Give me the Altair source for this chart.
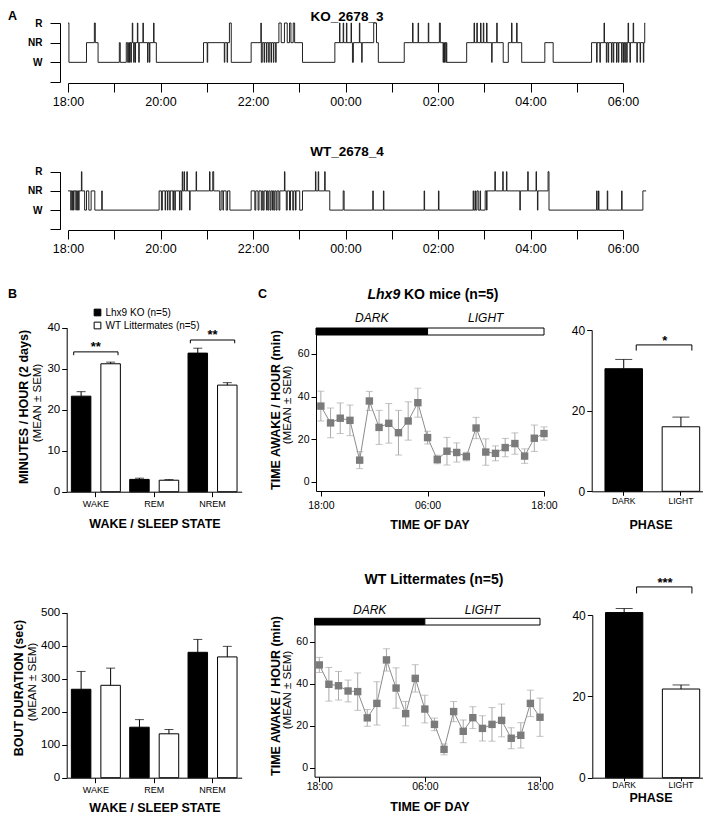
import altair as alt
import pandas as pd

FONT = "Liberation Sans"
W, H = 695, 808
MARGIN = 8


def px(v):
    return v - MARGIN


# ------------------------------------------------------------------ DATA
# Panel A hypnograms: (hours after 18:00, state at start of bout)
ko_hypnogram = [
    (0.00, "R"), (0.02, "W"), (0.40, "NR"), (0.57, "R"), (0.59, "NR"), (0.65, "W"), (1.11, "NR"), (1.13, "W"),
    (1.26, "NR"), (1.29, "W"), (1.31, "NR"), (1.33, "W"), (1.34, "NR"), (1.36, "W"), (1.37, "NR"), (1.39, "R"),
    (1.40, "NR"), (1.42, "W"), (1.43, "NR"), (1.45, "W"), (1.46, "NR"), (1.50, "R"), (1.51, "NR"), (1.53, "W"),
    (1.54, "NR"), (1.62, "R"), (1.63, "NR"), (1.72, "W"), (1.73, "NR"), (1.76, "W"), (1.77, "NR"), (1.85, "R"),
    (1.86, "NR"), (1.91, "W"), (2.93, "NR"), (3.01, "W"), (3.02, "NR"), (3.38, "W"), (3.39, "NR"), (3.44, "W"),
    (3.45, "NR"), (3.49, "R"), (3.53, "W"), (3.96, "NR"), (4.17, "R"), (4.18, "W"), (4.20, "NR"), (4.24, "W"),
    (4.25, "NR"), (4.29, "W"), (4.30, "NR"), (4.34, "W"), (4.35, "NR"), (4.39, "W"), (4.40, "NR"), (4.44, "W"),
    (4.45, "NR"), (4.49, "W"), (4.50, "NR"), (4.56, "R"), (4.61, "NR"), (4.68, "R"), (4.74, "NR"), (4.79, "R"),
    (4.82, "NR"), (4.87, "R"), (4.90, "NR"), (5.07, "W"), (5.77, "NR"), (5.87, "R"), (5.88, "NR"), (5.95, "R"),
    (5.96, "NR"), (6.02, "R"), (6.03, "NR"), (6.12, "R"), (6.13, "NR"), (6.15, "W"), (6.17, "NR"), (6.30, "R"),
    (6.31, "NR"), (6.35, "W"), (6.36, "NR"), (6.61, "R"), (6.67, "NR"), (6.71, "W"), (7.27, "NR"), (7.45, "R"),
    (7.46, "NR"), (7.57, "R"), (7.58, "NR"), (7.79, "R"), (7.80, "NR"), (8.03, "R"), (8.05, "NR"), (8.11, "W"),
    (8.12, "NR"), (8.14, "W"), (8.15, "NR"), (8.17, "W"), (8.18, "NR"), (8.19, "W"), (8.62, "NR"), (8.78, "R"),
    (8.79, "NR"), (8.84, "R"), (8.85, "NR"), (8.92, "R"), (8.93, "NR"), (8.98, "R"), (8.99, "NR"), (9.05, "R"),
    (9.06, "NR"), (9.16, "W"), (9.17, "NR"), (9.27, "R"), (9.28, "NR"), (9.41, "W"), (9.52, "NR"), (9.59, "R"),
    (9.60, "NR"), (9.70, "R"), (9.71, "NR"), (9.81, "W"), (10.31, "NR"), (10.49, "W"), (11.32, "NR"), (11.43, "W"),
    (11.44, "NR"), (11.50, "W"), (11.51, "NR"), (11.59, "R"), (11.60, "NR"), (11.64, "W"), (11.65, "NR"), (11.68, "W"),
    (11.69, "NR"), (11.75, "W"), (11.76, "NR"), (11.79, "W"), (11.80, "NR"), (11.86, "W"), (11.87, "NR"), (11.90, "W"),
    (11.91, "NR"), (11.97, "W"), (11.98, "NR"), (12.01, "W"), (12.02, "NR"), (12.04, "W"), (12.05, "NR"), (12.08, "W"),
    (12.09, "NR"), (12.11, "R"), (12.12, "NR"), (12.15, "W"), (12.16, "NR"), (12.22, "R"), (12.23, "NR"), (12.30, "W"),
    (12.31, "NR"), (12.37, "W"), (12.38, "NR"), (12.44, "W"), (12.45, "NR"), (12.47, "R"), (12.48, "R"),
]
wt_hypnogram = [
    (0.00, "NR"), (0.06, "W"), (0.07, "NR"), (0.09, "W"), (0.10, "NR"), (0.12, "W"), (0.13, "NR"), (0.17, "W"),
    (0.18, "NR"), (0.20, "W"), (0.21, "NR"), (0.23, "W"), (0.24, "NR"), (0.29, "R"), (0.30, "NR"), (0.36, "W"),
    (0.40, "NR"), (0.45, "W"), (0.50, "NR"), (0.58, "W"), (0.73, "NR"), (0.74, "W"), (1.97, "NR"), (2.02, "W"),
    (2.04, "NR"), (2.10, "W"), (2.11, "NR"), (2.15, "W"), (2.16, "NR"), (2.20, "W"), (2.21, "NR"), (2.27, "W"),
    (2.28, "NR"), (2.31, "W"), (2.32, "NR"), (2.41, "W"), (2.42, "NR"), (2.45, "W"), (2.46, "NR"), (2.47, "R"),
    (2.48, "NR"), (2.51, "R"), (2.52, "NR"), (2.57, "R"), (2.58, "NR"), (2.63, "W"), (2.64, "NR"), (2.77, "R"),
    (2.78, "NR"), (3.06, "R"), (3.07, "NR"), (3.13, "R"), (3.15, "NR"), (3.28, "W"), (3.31, "NR"), (3.35, "W"),
    (3.36, "NR"), (3.42, "W"), (3.45, "NR"), (3.50, "W"), (3.96, "NR"), (4.04, "W"), (4.06, "NR"), (4.11, "W"),
    (4.13, "NR"), (4.18, "W"), (4.20, "NR"), (4.22, "W"), (4.24, "NR"), (4.29, "W"), (4.30, "NR"), (4.32, "W"),
    (4.34, "NR"), (4.37, "W"), (4.39, "NR"), (4.42, "W"), (4.43, "NR"), (4.45, "W"), (4.47, "NR"), (4.50, "W"),
    (4.52, "NR"), (4.56, "W"), (4.58, "NR"), (4.68, "R"), (4.69, "NR"), (4.72, "W"), (4.74, "NR"), (4.79, "W"),
    (4.81, "NR"), (4.86, "W"), (4.88, "NR"), (4.92, "W"), (4.93, "NR"), (5.01, "W"), (5.07, "NR"), (5.35, "R"),
    (5.36, "NR"), (5.41, "R"), (5.42, "NR"), (5.55, "R"), (5.56, "NR"), (5.66, "W"), (5.95, "NR"), (5.97, "W"),
    (6.59, "NR"), (6.60, "W"), (6.82, "NR"), (6.83, "W"), (7.70, "NR"), (7.71, "W"), (8.01, "NR"), (8.02, "W"),
    (8.76, "NR"), (8.77, "W"), (8.80, "NR"), (8.81, "W"), (8.84, "NR"), (8.87, "W"), (8.91, "NR"), (8.92, "W"),
    (9.02, "NR"), (9.05, "W"), (9.06, "NR"), (9.23, "R"), (9.24, "NR"), (9.40, "R"), (9.41, "NR"), (9.48, "R"),
    (9.49, "NR"), (9.77, "W"), (9.78, "NR"), (9.94, "R"), (9.95, "NR"), (10.12, "R"), (10.13, "NR"), (10.15, "W"),
    (10.16, "NR"), (10.38, "R"), (10.40, "W"), (11.43, "NR"), (11.44, "W"), (11.47, "NR"), (11.48, "W"), (11.66, "NR"),
    (11.67, "W"), (11.97, "NR"), (11.98, "W"), (12.43, "NR"), (12.50, "NR"),
]

# Panel B
sleep_states = ["WAKE", "REM", "NREM"]
genotypes = ["KO", "WT"]
ko_min_hour = [23.3, 3.0, 33.8]
ko_min_hour_sem = [1.1, 0.3, 1.2]
wt_min_hour = [31.2, 2.8, 26.0]
wt_min_hour_sem = [0.4, 0.15, 0.6]
min_sig_states = ["WAKE", "NREM"]
min_sig_marks = ["**", "**"]
min_sig_levels = [34.1, 37.0]

ko_bout_sec = [268, 153, 380]
ko_bout_sec_sem = [54, 23, 39]
wt_bout_sec = [280, 133, 366]
wt_bout_sec_sem = [52, 13, 32]

# Panel C: hourly time awake (hour bins from 18:00)
hour_bins = list(range(24))
ko_awake = [35.5, 27.6, 29.8, 28.8, 10.1, 37.9, 25.5, 27.4, 23.0, 28.5, 37.1, 20.7,
            10.4, 14.3, 13.7, 11.8, 25.2, 13.9, 13.3, 16.0, 17.9, 12.0, 20.4, 22.6]
ko_awake_sem = [7.0, 7.0, 7.2, 7.2, 4.0, 4.5, 8.0, 9.3, 10.5, 9.0, 6.8, 3.0,
                2.0, 6.5, 4.5, 2.0, 5.0, 6.2, 3.5, 4.3, 5.0, 3.4, 6.2, 3.1]
wt_awake = [48.9, 39.7, 39.0, 36.5, 36.2, 23.7, 30.6, 51.3, 37.9, 25.7, 42.5, 27.9,
            20.6, 8.7, 26.7, 17.3, 23.8, 18.7, 20.6, 22.5, 14.0, 15.4, 30.6, 24.0]
wt_awake_sem = [3.6, 8.0, 6.8, 5.2, 8.9, 4.0, 10.3, 5.3, 9.6, 5.8, 6.5, 6.6,
                3.0, 2.6, 4.8, 5.4, 5.2, 6.0, 8.0, 7.8, 5.0, 6.0, 6.3, 9.1]

phases = ["DARK", "LIGHT"]
phase_start = [-0.5, 11]
phase_end = [11, 23]
ko_phase = [30.4, 16.0]
ko_phase_sem = [2.3, 2.4]
wt_phase = [40.6, 21.8]
wt_phase_sem = [1.0, 1.0]
ko_phase_sig = ("*", 36.3)
wt_phase_sig = ("***", 46.9)


# ------------------------------------------------------------------ HELPERS
def x_axis(y_page, **kw):
    return alt.Axis(orient="bottom", offset=px(y_page) - H, title=None, grid=False,
                    labelFlush=False, labelOverlap=False, labelAngle=0, **kw)


def y_axis(x_page, **kw):
    return alt.Axis(orient="left", offset=-px(x_page), title=None, grid=False,
                    labelFlush=False, labelOverlap=False, **kw)


DUMMY = pd.DataFrame({"k": [0]})


def text(s, x, y, size, weight="normal", style="normal", angle=0, align="center", baseline="middle"):
    kw = dict(font=FONT, fontSize=size, fontWeight=weight, fontStyle=style,
              align=align, baseline=baseline, color="black")
    if angle:
        kw["angle"] = angle
    return alt.Chart(DUMMY).mark_text(**kw).encode(
        x=alt.value(px(x)), y=alt.value(px(y)), text=alt.value(s))


CLOCK = ("datum.value % 2 == 1 ? '' : "
         "((((18 + datum.value) % 24) < 10) ? '0' : '') + ((18 + datum.value) % 24) + ':00'")
STATE_LABEL = "datum.value == 3 ? 'R' : datum.value == 2 ? 'NR' : datum.value == 1 ? 'W' : ''"


def hypnogram(pairs, x0, x1, ybot, ytop, yaxis_x, xaxis_y):
    df = pd.DataFrame(pairs, columns=["hour", "state"])
    df["level"] = df["state"].map({"W": 1, "NR": 2, "R": 3})
    xs = alt.Scale(domain=[0, 12], range=[px(x0), px(x1)], nice=False, zero=False)
    ys = alt.Scale(domain=[0, 3], range=[px(ybot), px(ytop)], nice=False, zero=False)
    return [alt.Chart(df).mark_line(interpolate="step-after", color="#222222", strokeWidth=1).encode(
        x=alt.X("hour:Q", scale=xs,
                axis=x_axis(xaxis_y, values=list(range(13)), tickSize=9, labelPadding=3,
                            labelFontSize=12.5, labelExpr=CLOCK)),
        y=alt.Y("level:Q", scale=ys,
                axis=y_axis(yaxis_x, values=[0, 1, 2, 3], tickSize=10, labelPadding=8,
                            labelFontSize=10, labelFontWeight="bold", labelExpr=STATE_LABEL)),
        order="hour:Q",
    )]


B_X0, B_X1, B_YAXIS = 66.7, 241.7, 66.7


def state_bars(ko_vals, ko_sem, wt_vals, wt_sem, y_dom, y_vals, ybot, ytop,
               sig=None, sig_depth=0.8, legend=None):
    df = pd.DataFrame({
        "state": sleep_states * 2,
        "genotype": ["KO"] * 3 + ["WT"] * 3,
        "mean": ko_vals + wt_vals,
        "sem": ko_sem + wt_sem,
    })
    df["upper"] = df["mean"] + df["sem"]
    xs = alt.Scale(domain=sleep_states, range=[px(B_X0), px(B_X1)], paddingInner=0, paddingOuter=0)
    ys = alt.Scale(domain=y_dom, range=[px(ybot), px(ytop)], nice=False, zero=False)
    xo = alt.XOffset("genotype:N", scale=alt.Scale(domain=genotypes, paddingInner=0.339, paddingOuter=0.158))
    X = alt.X("state:N", scale=xs, sort=sleep_states, axis=None)
    bars = alt.Chart(df).mark_bar(stroke="black", strokeWidth=1).encode(
        x=alt.X("state:N", scale=xs, sort=sleep_states,
                axis=x_axis(ybot, tickSize=5, labelPadding=3, labelFontSize=9)),
        xOffset=xo,
        y=alt.Y("mean:Q", scale=ys,
                axis=y_axis(B_YAXIS, values=y_vals, tickSize=5, labelPadding=2, labelFontSize=11.5)),
        fill=alt.Fill("genotype:N", scale=alt.Scale(domain=genotypes, range=["black", "white"]), legend=legend),
    )
    err = alt.Chart(df).mark_rule(color="black", strokeWidth=1).encode(
        x=X, xOffset=xo, y=alt.Y("mean:Q", scale=ys, axis=None), y2="upper:Q")
    cap = alt.Chart(df).mark_tick(color="black", size=9, thickness=1).encode(
        x=X, xOffset=xo, y=alt.Y("upper:Q", scale=ys, axis=None))
    layers = [bars, err, cap]
    if sig:
        states_s, marks_s, levels_s = sig
        rows = []
        for st, lvl in zip(states_s, levels_s):
            for k, (g, yv) in enumerate([("KO", lvl - sig_depth), ("KO", lvl), ("WT", lvl), ("WT", lvl - sig_depth)]):
                rows.append({"state": st, "genotype": g, "y": yv, "k": k})
        bdf = pd.DataFrame(rows)
        bracket = alt.Chart(bdf).mark_line(color="black", strokeWidth=1).encode(
            x=X, xOffset=xo, y=alt.Y("y:Q", scale=ys, axis=None), detail="state:N", order="k:Q")
        sdf = pd.DataFrame({"state": states_s, "mark": marks_s, "y": levels_s})
        stars = alt.Chart(sdf).mark_text(font=FONT, fontSize=13, fontWeight="bold",
                                         baseline="alphabetic", dy=-1, color="black").encode(
            x=X, y=alt.Y("y:Q", scale=ys, axis=None), text="mark:N")
        layers += [bracket, stars]
    return layers


def awake_line(vals, sems, x0, x1, y_dom, ybot, ytop, yaxis_x, xlabel_pad, bar_top, bar_bot, label_y):
    df = pd.DataFrame({"bin": hour_bins, "mean": vals, "sem": sems})
    df["lo"] = df["mean"] - df["sem"]
    df["hi"] = df["mean"] + df["sem"]
    xs = alt.Scale(domain=[-0.5, 23], range=[px(x0), px(x1)], nice=False, zero=False)
    ys = alt.Scale(domain=y_dom, range=[px(ybot), px(ytop)], nice=False, zero=False)
    X = alt.X("bin:Q", scale=xs, axis=None)
    err_col = "#a9a9a9"
    err = alt.Chart(df).mark_rule(color=err_col, strokeWidth=1).encode(
        x=X, y=alt.Y("lo:Q", scale=ys, axis=None), y2="hi:Q")
    cap_lo = alt.Chart(df).mark_tick(color=err_col, size=7, thickness=1, orient="horizontal").encode(
        x=X, y=alt.Y("lo:Q", scale=ys, axis=None))
    cap_hi = alt.Chart(df).mark_tick(color=err_col, size=7, thickness=1, orient="horizontal").encode(
        x=X, y=alt.Y("hi:Q", scale=ys, axis=None))
    line = alt.Chart(df).mark_line(color="#8c8c8c", strokeWidth=1).encode(
        x=alt.X("bin:Q", scale=xs,
                axis=x_axis(ybot, values=[0, 11, 23], tickSize=5, labelPadding=xlabel_pad, labelFontSize=10.5,
                            labelExpr="datum.value == 11 ? '06:00' : '18:00'")),
        y=alt.Y("mean:Q", scale=ys,
                axis=y_axis(yaxis_x, values=[0, 20, 40, 60], tickSize=5, labelPadding=2, labelFontSize=10.5)),
    )
    pts = alt.Chart(df).mark_square(size=55, color="#7b7b7b", opacity=1).encode(
        x=X, y=alt.Y("mean:Q", scale=ys, axis=None))
    pdf = pd.DataFrame({"phase": phases, "start": phase_start, "end": phase_end})
    pdf["mid"] = (pdf["start"] + pdf["end"]) / 2
    pbar = alt.Chart(pdf).mark_rect(stroke="black", strokeWidth=1).encode(
        x=alt.X("start:Q", scale=xs, axis=None), x2="end:Q",
        y=alt.value(px(bar_top)), y2=alt.value(px(bar_bot)),
        fill=alt.Fill("phase:N", scale=alt.Scale(domain=phases, range=["black", "white"]), legend=None),
    )
    plabel = alt.Chart(pdf).mark_text(font=FONT, fontSize=12, fontStyle="italic", color="black").encode(
        x=alt.X("mid:Q", scale=xs, axis=None), y=alt.value(px(label_y)), text="phase:N")
    return [err, cap_lo, cap_hi, line, pts, pbar, plabel]


PI, PO, AL = 0.344, 0.145, 0.8


def phase_bars(vals, sems, x0, x1, ybot, ytop, label_tick, label_pad, sig, sig_depth):
    df = pd.DataFrame({"phase": phases, "mean": vals, "sem": sems})
    df["upper"] = df["mean"] + df["sem"]
    xs = alt.Scale(domain=phases, range=[px(x0), px(x1)], paddingInner=PI, paddingOuter=PO, align=AL)
    ys = alt.Scale(domain=[0, 40], range=[px(ybot), px(ytop)], nice=False, zero=False)
    X = alt.X("phase:N", scale=xs, sort=phases, axis=None)
    bars = alt.Chart(df).mark_bar(stroke="black", strokeWidth=1).encode(
        x=alt.X("phase:N", scale=xs, sort=phases,
                axis=x_axis(ybot, tickSize=label_tick, labelPadding=label_pad, labelFontSize=8.5)),
        y=alt.Y("mean:Q", scale=ys,
                axis=y_axis(x0, values=[0, 20, 40], tickSize=5, labelPadding=2, labelFontSize=12)),
        fill=alt.Fill("phase:N", scale=alt.Scale(domain=phases, range=["black", "white"]), legend=None),
    )
    err = alt.Chart(df).mark_rule(color="black", strokeWidth=1).encode(
        x=X, y=alt.Y("mean:Q", scale=ys, axis=None), y2="upper:Q")
    cap = alt.Chart(df).mark_tick(color="black", size=17, thickness=1).encode(
        x=X, y=alt.Y("upper:Q", scale=ys, axis=None))
    mark, lvl = sig
    bdf = pd.DataFrame({"phase": ["DARK", "DARK", "LIGHT", "LIGHT"],
                        "y": [lvl - sig_depth, lvl, lvl, lvl - sig_depth], "k": [0, 1, 2, 3]})
    bracket = alt.Chart(bdf).mark_line(color="black", strokeWidth=1).encode(
        x=X, y=alt.Y("y:Q", scale=ys, axis=None), order="k:Q")
    step = (x1 - x0) / (2 - PI + 2 * PO)
    sdf = pd.DataFrame({"phase": ["DARK"], "mark": [mark], "y": [lvl]})
    stars = alt.Chart(sdf).mark_text(font=FONT, fontSize=13, fontWeight="bold", baseline="alphabetic",
                                     dx=step / 2, dy=0, color="black").encode(
        x=X, y=alt.Y("y:Q", scale=ys, axis=None), text="mark:N")
    return [bars, err, cap, bracket, stars]


# ------------------------------------------------------------------ PANELS
legend_b = alt.Legend(orient="none", legendX=px(92.5), legendY=px(307.5), title=None,
                      symbolType="square", symbolSize=45, symbolStrokeColor="black", symbolStrokeWidth=1,
                      labelFontSize=10, labelFont=FONT, labelColor="black", rowPadding=1, padding=0,
                      labelOffset=3,
                      labelExpr="datum.label == 'KO' ? 'Lhx9 KO (n=5)' : 'WT Littermates (n=5)'")

layers = []
layers += hypnogram(ko_hypnogram, 68, 623, 82, 23, 60, 83)
layers += hypnogram(wt_hypnogram, 68, 623, 229.3, 171.7, 60, 230)
layers += state_bars(ko_min_hour, ko_min_hour_sem, wt_min_hour, wt_min_hour_sem,
                     [0, 40], [0, 10, 20, 30, 40], 491.7, 327.7,
                     sig=(min_sig_states, min_sig_marks, min_sig_levels), sig_depth=0.8, legend=legend_b)
layers += state_bars(ko_bout_sec, ko_bout_sec_sem, wt_bout_sec, wt_bout_sec_sem,
                     [0, 500], [0, 100, 200, 300, 400, 500], 777.7, 612.7)
layers += awake_line(ko_awake, ko_awake_sem, 316, 544, [-4.4, 72.2], 491, 328, 316, 4, 328, 335, 318)
layers += awake_line(wt_awake, wt_awake_sem, 314.5, 540, [-4.3, 71.1], 776.7, 618.3, 314.5, 0, 618.3, 625, 610)
layers += phase_bars(ko_phase, ko_phase_sem, 591.7, 703, 491.3, 330, 4, 1, ko_phase_sig, 1.4)
layers += phase_bars(wt_phase, wt_phase_sem, 592.3, 703, 777.7, 615, 3, 0, wt_phase_sig, 1.6)

layers += [
    text("A", 8, 19.5, 12.5, weight="bold", align="left", baseline="alphabetic"),
    text("KO_2678_3", 347, 20.5, 13.5, weight="bold", baseline="alphabetic"),
    text("WT_2678_4", 347, 151.7, 13.5, weight="bold"),
    text("B", 8, 294, 12.5, weight="bold", align="left"),
    text("C", 258, 294, 12.5, weight="bold", align="left"),
    # B axis titles
    text("MINUTES / HOUR (2 days)", 24, 407, 12.5, weight="bold", angle=270),
    text("(MEAN \u00b1 SEM)", 38, 403, 11.5, angle=270),
    text("WAKE / SLEEP STATE", 155, 524, 12.5, weight="bold"),
    text("BOUT DURATION (sec)", 19, 688, 12.5, weight="bold", angle=270),
    text("(MEAN \u00b1 SEM)", 32.5, 682, 11.5, angle=270),
    text("WAKE / SLEEP STATE", 155, 808, 12.5, weight="bold"),
    # C titles
    text("Lhx9", 367.5, 295, 14, weight="bold", style="italic", align="left"),
    text("KO mice (n=5)", 404, 295, 14, weight="bold", align="left"),
    text("WT Littermates (n=5)", 434, 580, 14, weight="bold"),
    text("TIME AWAKE / HOUR (min)", 276, 410, 12.5, weight="bold", angle=270),
    text("(MEAN \u00b1 SEM)", 288, 405, 11.5, angle=270),
    text("TIME AWAKE / HOUR (min)", 276, 696, 12.5, weight="bold", angle=270),
    text("(MEAN \u00b1 SEM)", 288, 690, 11.5, angle=270),
    text("TIME OF DAY", 430, 525, 12.5, weight="bold"),
    text("TIME OF DAY", 430, 807, 12.5, weight="bold"),
    text("PHASE", 651, 525, 12.5, weight="bold"),
    text("PHASE", 651, 798, 12.5, weight="bold"),
]

chart = alt.layer(*layers).resolve_scale(
    x="independent", y="independent", xOffset="independent", fill="independent"
).resolve_axis(
    x="independent", y="independent"
).properties(
    width=W, height=H, padding=0, autosize=alt.AutoSizeParams(type="none")
).configure(
    font=FONT
).configure_view(
    stroke=None
).configure_axis(
    domainColor="black", tickColor="black", labelColor="black", labelFont=FONT,
    grid=False, domainWidth=1, tickWidth=1
)

chart.save("out.html", embed_options={"renderer": "svg", "actions": False})
